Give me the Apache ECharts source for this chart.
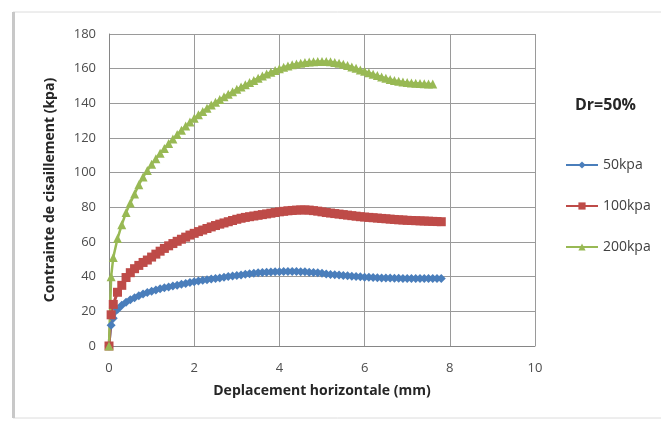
<!DOCTYPE html>
<html>
<head>
<meta charset="utf-8">
<script src="https://cdn.jsdelivr.net/npm/echarts@6/dist/echarts.min.js"></script>
<style>
  html, body { margin: 0; padding: 0; background: #fff; }
  #chart { width: 661px; height: 423px; }
</style>
</head>
<body>
<div id="chart"></div>
<script>
// deplacement (mm)
var xs = [0, 0.05, 0.1, 0.2, 0.3, 0.4, 0.5, 0.6, 0.7, 0.8, 0.9,
  1.0, 1.1, 1.2, 1.3, 1.4, 1.5, 1.6, 1.7, 1.8, 1.9,
  2.0, 2.1, 2.2, 2.3, 2.4, 2.5, 2.6, 2.7, 2.8, 2.9,
  3.0, 3.1, 3.2, 3.3, 3.4, 3.5, 3.6, 3.7, 3.8, 3.9,
  4.0, 4.1, 4.2, 4.3, 4.4, 4.5, 4.6, 4.7, 4.8, 4.9,
  5.0, 5.1, 5.2, 5.3, 5.4, 5.5, 5.6, 5.7, 5.8, 5.9,
  6.0, 6.1, 6.2, 6.3, 6.4, 6.5, 6.6, 6.7, 6.8, 6.9,
  7.0, 7.1, 7.2, 7.3, 7.4, 7.5, 7.6, 7.7, 7.8];

// contrainte (kpa)
var kpa50 = [0, 12, 16, 21, 23.5, 25.2, 26.7, 27.9, 29, 30, 30.8,
  31.6, 32.3, 33, 33.6, 34.1, 34.6, 35.1, 35.6, 36.1, 36.6,
  37.1, 37.5, 37.9, 38.2, 38.6, 38.9, 39.3, 39.7, 40.1, 40.4,
  40.7, 41, 41.4, 41.7, 41.9, 42.2, 42.4, 42.6, 42.7, 42.8,
  42.9, 43, 43, 43, 43, 42.9, 42.8, 42.6, 42.4, 42.2,
  41.9, 41.6, 41.3, 41.1, 40.9, 40.7, 40.5, 40.3, 40.1, 39.9,
  39.7, 39.6, 39.5, 39.4, 39.3, 39.2, 39.2, 39.1, 39.1, 39,
  39, 39, 39, 39, 39, 39, 39, 39, 39];

var kpa100 = [0, 18, 24, 31, 35, 39.5, 42.3, 44.6, 46.5, 48.2, 49.6,
  51.3, 53, 54.7, 56.3, 57.8, 59.1, 60.4, 61.6, 62.8, 64,
  65, 66, 66.9, 67.8, 68.7, 69.5, 70.3, 71, 71.7, 72.4,
  73.1, 73.7, 74.2, 74.6, 75, 75.4, 75.8, 76.2, 76.6, 77,
  77.4, 77.7, 78, 78.2, 78.4, 78.5, 78.5, 78.4, 78.1, 77.8,
  77.4, 77, 76.7, 76.4, 76.1, 75.8, 75.5, 75.2, 74.9, 74.6,
  74.4, 74.2, 74, 73.8, 73.6, 73.4, 73.2, 73, 72.8, 72.7,
  72.5, 72.4, 72.3, 72.2, 72.1, 72, 71.9, 71.8, 71.7];

var kpa200 = [0, 40, 51, 62, 70, 77, 82.5, 87.7, 93, 97.5, 101.3,
  104.8, 108.1, 111.2, 114, 116.8, 119.4, 122, 124.5, 126.9, 129.2,
  131.4, 133.4, 135.3, 137.2, 139, 140.6, 142.2, 143.8, 145.3, 146.7,
  148.1, 149.4, 150.7, 152, 153.2, 154.5, 155.7, 156.9, 158, 159,
  160, 160.8, 161.5, 162.2, 162.7, 163.1, 163.5, 163.8, 164, 164.1,
  164.1, 164.1, 164, 163.6, 163.1, 162.5, 161.8, 161, 160.2, 159.3,
  158.5, 157.7, 156.8, 156, 155.2, 154.5, 153.8, 153.2, 152.7, 152.3,
  152, 151.8, 151.6, 151.4, 151.3, 151.2, 151.1];

var seriesNames = ['50kpa', '100kpa', '200kpa'];

function pairs(ys) {
    return ys.map(function (y, i) { return [xs[i], y]; });
}

var chart = echarts.init(document.getElementById('chart'));
var font = '"Open Sans", "Liberation Sans", sans-serif';

chart.setOption({
    backgroundColor: '#ffffff',
    animation: false,
    textStyle: { fontFamily: font },
    graphic: [
        {
            type: 'rect',
            shape: { x: 13, y: 12, width: 660, height: 406 },
            style: { fill: 'none', stroke: '#dcdcdc', lineWidth: 1 },
            z: -1
        },
        {
            type: 'rect',
            shape: { x: 12, y: 12, width: 3, height: 406 },
            style: { fill: '#c8c8c8' },
            z: -1
        },
        {
            type: 'text',
            left: 575, top: 97,
            style: { text: 'Dr=50%', fontSize: 16, fontWeight: 'bold', fill: '#262626', fontFamily: font }
        }
    ],
    grid: { left: 109, right: 126, top: 34, bottom: 77 },
    legend: {
        orient: 'vertical',
        left: 560, top: 153,
        itemGap: 27,
        itemWidth: 32, itemHeight: 9,
        textStyle: { fontSize: 14, color: '#404040', fontFamily: font },
        data: seriesNames
    },
    xAxis: {
        type: 'value',
        min: 0, max: 10, interval: 2,
        name: 'Deplacement horizontale (mm)',
        nameLocation: 'middle',
        nameGap: 38,
        nameTextStyle: { fontSize: 14, fontWeight: 'bold', color: '#262626' },
        axisLine: { show: true, lineStyle: { color: '#868686' } },
        axisTick: { show: false },
        axisLabel: { margin: 16, fontSize: 13, color: '#4d4d4d' },
        splitLine: { show: true, lineStyle: { color: '#9a9a9a', width: 1 } }
    },
    yAxis: {
        type: 'value',
        min: 0, max: 180, interval: 20,
        name: 'Contrainte de cisaillement (kpa)',
        nameLocation: 'middle',
        nameGap: 52,
        nameTextStyle: { fontSize: 14, fontWeight: 'bold', color: '#262626' },
        axisLine: { show: true, lineStyle: { color: '#868686' } },
        axisTick: { show: false },
        axisLabel: { margin: 13, fontSize: 13, color: '#4d4d4d' },
        splitLine: { show: true, lineStyle: { color: '#9a9a9a', width: 1 } }
    },
    series: [
        {
            name: seriesNames[0],
            type: 'line',
            data: pairs(kpa50),
            color: '#4a7ebb',
            symbol: 'diamond',
            symbolSize: 9,
            showAllSymbol: true,
            lineStyle: { width: 2.5 }
        },
        {
            name: seriesNames[1],
            type: 'line',
            data: pairs(kpa100),
            color: '#be4b48',
            symbol: 'rect',
            symbolSize: 9,
            showAllSymbol: true,
            lineStyle: { width: 3 }
        },
        {
            name: seriesNames[2],
            type: 'line',
            data: pairs(kpa200),
            color: '#98b954',
            symbol: 'triangle',
            symbolSize: 9,
            showAllSymbol: true,
            lineStyle: { width: 2.5 }
        }
    ]
});
</script>
</body>
</html>
